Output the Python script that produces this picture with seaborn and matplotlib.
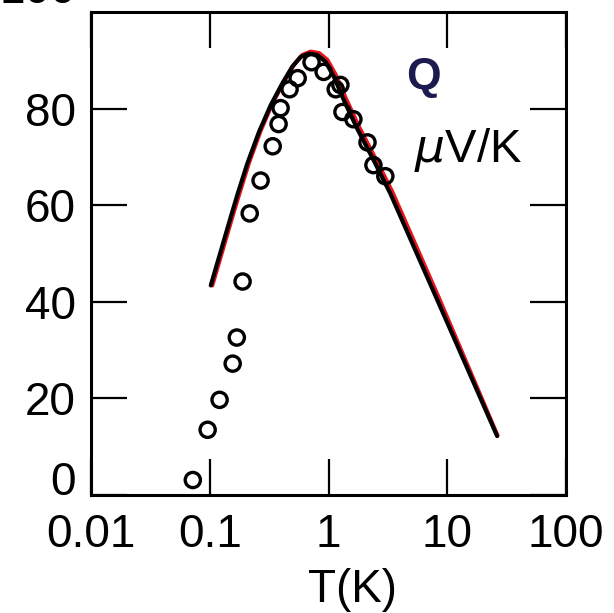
import matplotlib
matplotlib.use("Agg")
import matplotlib.pyplot as plt
import seaborn as sns
import pandas as pd
from matplotlib.ticker import FixedLocator, FixedFormatter, NullLocator

# Thermopower Q (uV/K) versus temperature T (K)

# measured points (open circles)
T_meas = [0.072, 0.096, 0.121, 0.156, 0.169, 0.189, 0.217, 0.268, 0.339, 0.38,
          0.395, 0.47, 0.55, 0.72, 0.91, 1.15, 1.26, 1.31, 1.62, 2.13, 2.39, 3.01]
Q_meas = [3.1, 13.5, 19.7, 27.2, 32.6, 44.2, 58.3, 65.1, 72.2, 76.8,
          80.1, 84.0, 86.3, 89.6, 87.6, 84.0, 84.9, 79.3, 77.8, 73.0, 68.3, 66.0]

# calculated curve (black)
T_calc = [0.102, 0.15, 0.172, 0.207, 0.26, 0.326, 0.408, 0.496, 0.582, 0.684,
          0.804, 0.944, 1.11, 1.35, 1.74, 2.4, 3.32, 8.2, 26.3]
Q_calc = [43.4, 57.5, 62.4, 68.6, 75.2, 80.7, 85.2, 88.7, 90.7, 91.4,
          91.1, 89.7, 86.6, 81.7, 75.9, 69.3, 62.4, 40.5, 12.2]

# second calculated curve (red)
T_calc2 = [0.105, 0.155, 0.178, 0.214, 0.269, 0.337, 0.422, 0.513, 0.602, 0.708,
           0.832, 0.977, 1.15, 1.40, 1.80, 2.48, 3.44, 8.5, 26.5]
Q_calc2 = [43.4, 57.6, 62.5, 68.8, 75.5, 81.1, 85.6, 89.1, 91.1, 91.8,
           91.5, 90.1, 87.0, 82.1, 76.3, 69.7, 62.8, 40.8, 12.3]

x_ticks = [0.01, 0.1, 1, 10, 100]
x_tick_labels = ["0.01", "0.1", "1", "10", "100"]
y_ticks = [0, 20, 40, 60, 80]
y_tick_labels = ["", "20", "40", "60", "80"]

meas = pd.DataFrame({"T": T_meas, "Q": Q_meas})
calc = pd.DataFrame({"T": T_calc, "Q": Q_calc})
calc2 = pd.DataFrame({"T": T_calc2, "Q": Q_calc2})

sns.set_style("ticks")
plt.rcParams["font.family"] = ["Liberation Sans", "DejaVu Sans"]
plt.rcParams["text.color"] = "black"
plt.rcParams["axes.labelcolor"] = "black"

fig = plt.figure(figsize=(6.14, 6.13), dpi=100)
ax = fig.add_axes([91 / 614, 1 - 495 / 613, 475 / 614, 483 / 613])

sns.lineplot(data=calc2, x="T", y="Q", ax=ax, color="#e8141b", lw=3.0,
             sort=False, estimator=None, zorder=2)
sns.lineplot(data=calc, x="T", y="Q", ax=ax, color="black", lw=3.0,
             sort=False, estimator=None, zorder=3)
sns.scatterplot(data=meas, x="T", y="Q", ax=ax, marker="o", s=120,
                facecolor="none", edgecolor="black", linewidth=2.4, zorder=4)

ax.set_xscale("log")
ax.set_xlim(0.01, 100)
ax.set_ylim(0, 100)

ax.xaxis.set_major_locator(FixedLocator(x_ticks))
ax.xaxis.set_major_formatter(FixedFormatter(x_tick_labels))
ax.xaxis.set_minor_locator(NullLocator())
ax.yaxis.set_major_locator(FixedLocator(y_ticks))
ax.yaxis.set_major_formatter(FixedFormatter(y_tick_labels))
ax.yaxis.set_minor_locator(NullLocator())

ax.tick_params(axis="both", which="major", direction="in", length=26, width=1.6,
               top=True, right=True, labelsize=33, colors="black", pad=11)
ax.tick_params(axis="x", pad=13)

for sp in ax.spines.values():
    sp.set_linewidth(2.2)
    sp.set_color("black")

# end labels of the y axis: "0" sits on the baseline, "100" runs off the top
ax.annotate("0", xy=(0, 0), xycoords=("axes fraction", "data"),
            xytext=(-11, 0), textcoords="offset points", ha="right",
            va="baseline", fontsize=33, color="black", annotation_clip=False)
ax.annotate("100", xy=(0, 100), xycoords=("axes fraction", "data"),
            xytext=(-11, 6.5), textcoords="offset points", ha="right",
            va="baseline", fontsize=33, color="black", annotation_clip=False)

ax.set_xlabel("T(K)", fontsize=33, color="black")
ax.set_ylabel("")
ax.xaxis.set_label_coords(0.55, -0.152)

ax.text(0.70, 0.865, "Q", transform=ax.transAxes, fontsize=32,
        fontweight="bold", color="#1c1a4e", ha="center", va="center")
ax.text(0.68, 0.715, r"$\mu$V/K", transform=ax.transAxes, fontsize=34,
        color="black", ha="left", va="center")

fig.savefig("out.png", dpi=100, facecolor="white")
